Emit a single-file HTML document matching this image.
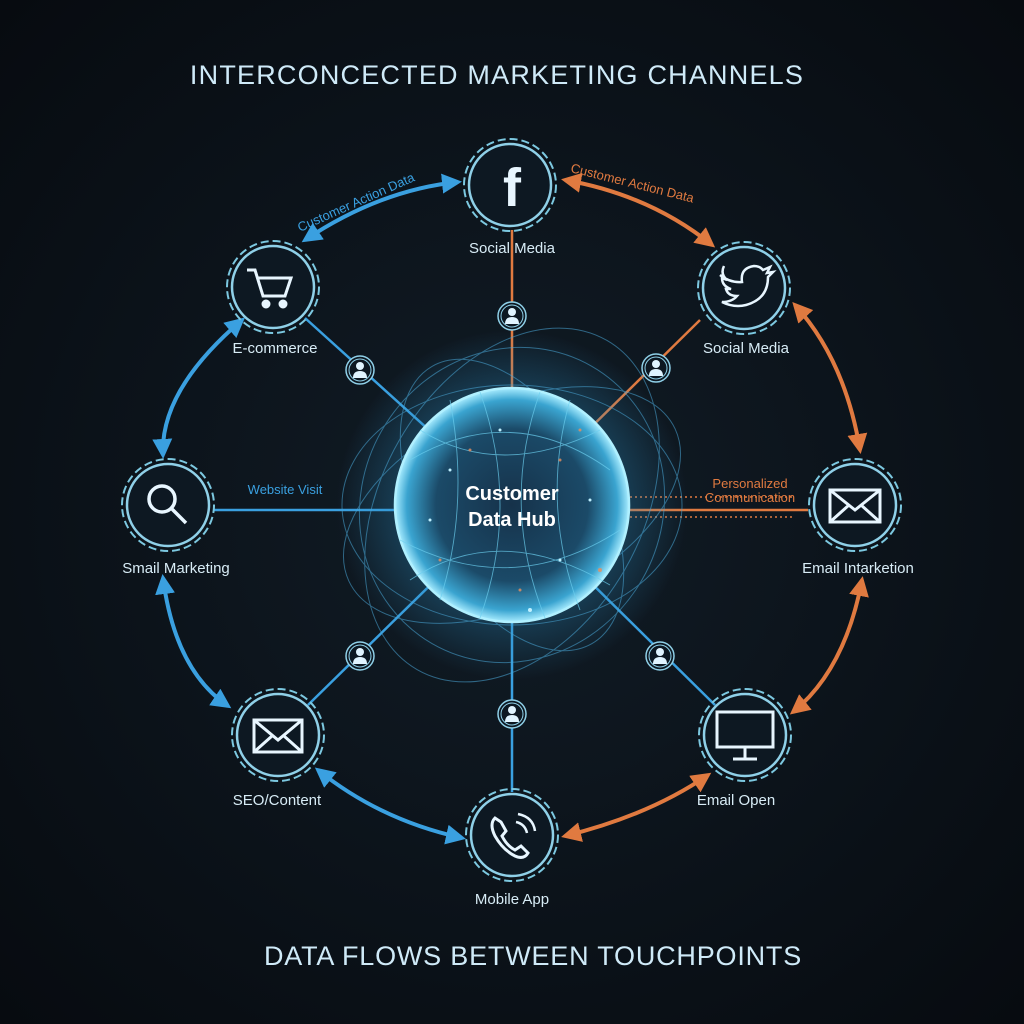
<!DOCTYPE html>
<html><head><meta charset="utf-8"><style>
html,body{margin:0;padding:0;background:#0a1016;}
svg{display:block;font-family:"Liberation Sans",sans-serif;}
</style></head><body>
<svg width="1024" height="1024" viewBox="0 0 1024 1024" xmlns="http://www.w3.org/2000/svg">
<defs>
<radialGradient id="bg" cx="50%" cy="50%" r="70%"><stop offset="0" stop-color="#111c26"/><stop offset="1" stop-color="#070b10"/></radialGradient>
<radialGradient id="hub" cx="50%" cy="50%" r="50%"><stop offset="0" stop-color="#16324a"/><stop offset="0.65" stop-color="#1b4a68"/><stop offset="0.9" stop-color="#3aa4d0"/><stop offset="1" stop-color="#a8ecff"/></radialGradient>
<radialGradient id="glow" cx="50%" cy="50%" r="50%"><stop offset="0.6" stop-color="#2a8cc0" stop-opacity="0.35"/><stop offset="1" stop-color="#2a8cc0" stop-opacity="0"/></radialGradient>
<marker id="ab" viewBox="0 0 10 10" refX="8" refY="5" markerWidth="5" markerHeight="5" orient="auto-start-reverse"><path d="M0,0L10,5L0,10z" fill="#3aa0e0"/></marker>
<marker id="ao" viewBox="0 0 10 10" refX="8" refY="5" markerWidth="5" markerHeight="5" orient="auto-start-reverse"><path d="M0,0L10,5L0,10z" fill="#e07a40"/></marker>
<g id="node"><circle r="46" fill="none" stroke="#7cc8e0" stroke-width="2" stroke-dasharray="8 4"/><circle r="41" fill="#0d1822" stroke="#8fd0e8" stroke-width="2.5"/></g>
<g id="person"><circle r="14" fill="#0d1822" stroke="#8fd0e8" stroke-width="1.5"/><circle r="11" fill="none" stroke="#8fd0e8" stroke-width="1"/><circle cy="-4" r="4" fill="#e0f4ff"/><path d="M-7,8 Q-7,1 0,1 Q7,1 7,8z" fill="#e0f4ff"/></g>
</defs>
<rect width="1024" height="1024" fill="url(#bg)"/>
<text x="497" y="84" text-anchor="middle" font-size="27" fill="#cfeaf8" letter-spacing="1.2">INTERCONCECTED MARKETING CHANNELS</text>
<text x="533" y="965" text-anchor="middle" font-size="27" fill="#cfeaf8" letter-spacing="0.8">DATA FLOWS BETWEEN TOUCHPOINTS</text>

<g stroke-width="2.5">
<line x1="512" y1="230" x2="512" y2="505" stroke="#e07a40"/>
<line x1="700" y1="320" x2="512" y2="505" stroke="#e07a40"/>
<line x1="808" y1="510" x2="512" y2="510" stroke="#e07a40"/>
<line x1="305" y1="318" x2="512" y2="505" stroke="#3aa0e0"/>
<line x1="214" y1="510" x2="512" y2="510" stroke="#3aa0e0"/>
<line x1="308" y1="705" x2="512" y2="505" stroke="#3aa0e0"/>
<line x1="512" y1="792" x2="512" y2="505" stroke="#3aa0e0"/>
<line x1="715" y1="705" x2="512" y2="505" stroke="#3aa0e0"/>
</g>
<line x1="590" y1="497" x2="795" y2="497" stroke="#e07a40" stroke-width="1.5" stroke-dasharray="2 3"/>
<line x1="590" y1="517" x2="795" y2="517" stroke="#e07a40" stroke-width="1.5" stroke-dasharray="2 3"/>

<circle cx="512" cy="505" r="175" fill="url(#glow)"/>
<g fill="none" stroke="#4aa8d8" stroke-width="1" opacity="0.55">
<ellipse cx="512" cy="505" rx="170" ry="120"/><ellipse cx="512" cy="505" rx="150" ry="160" transform="rotate(30 512 505)"/><ellipse cx="512" cy="505" rx="180" ry="100" transform="rotate(-25 512 505)"/>
<ellipse cx="512" cy="505" rx="160" ry="90" transform="rotate(60 512 505)"/><ellipse cx="512" cy="505" rx="190" ry="130" transform="rotate(-60 512 505)"/>
</g>
<circle cx="512" cy="505" r="117" fill="url(#hub)" stroke="#b0f0ff" stroke-width="2.5"/>
<g fill="none" stroke="#6cd0f0" stroke-width="0.9" opacity="0.7">
<path d="M410,460 Q512,400 610,470"/><path d="M400,540 Q512,600 620,530"/><path d="M450,400 Q470,505 440,600"/><path d="M570,400 Q540,505 580,610"/>
<path d="M420,430 Q500,480 600,430"/><path d="M410,580 Q500,520 610,585"/><path d="M480,392 Q520,505 480,618"/><path d="M540,392 Q500,505 545,618"/>
</g>
<g fill="#e89060" opacity="0.8"><circle cx="470" cy="450" r="1.5"/><circle cx="560" cy="460" r="1.5"/><circle cx="600" cy="570" r="2"/><circle cx="440" cy="560" r="1.5"/><circle cx="520" cy="590" r="1.5"/><circle cx="580" cy="430" r="1.5"/></g>
<g fill="#bff0ff"><circle cx="450" cy="470" r="1.5"/><circle cx="590" cy="500" r="1.5"/><circle cx="500" cy="430" r="1.5"/><circle cx="560" cy="560" r="1.5"/><circle cx="430" cy="520" r="1.5"/><circle cx="530" cy="610" r="2"/></g>
<text x="512" y="500" text-anchor="middle" font-size="20" font-weight="bold" fill="#fff">Customer</text>
<text x="512" y="526" text-anchor="middle" font-size="20" font-weight="bold" fill="#fff">Data Hub</text>

<g fill="none" stroke-width="4">
<path d="M305,240 Q380,190 458,182" stroke="#3aa0e0" marker-start="url(#ab)" marker-end="url(#ab)"/>
<path d="M242,320 Q160,390 163,455" stroke="#3aa0e0" marker-start="url(#ab)" marker-end="url(#ab)"/>
<path d="M163,578 Q175,670 228,706" stroke="#3aa0e0" marker-start="url(#ab)" marker-end="url(#ab)"/>
<path d="M318,770 Q380,820 462,838" stroke="#3aa0e0" marker-start="url(#ab)" marker-end="url(#ab)"/>
<path d="M565,180 Q650,195 712,245" stroke="#e07a40" marker-start="url(#ao)" marker-end="url(#ao)"/>
<path d="M795,305 Q845,360 860,450" stroke="#e07a40" marker-start="url(#ao)" marker-end="url(#ao)"/>
<path d="M862,580 Q845,670 793,712" stroke="#e07a40" marker-start="url(#ao)" marker-end="url(#ao)"/>
<path d="M708,775 Q650,815 565,836" stroke="#e07a40" marker-start="url(#ao)" marker-end="url(#ao)"/>
</g>
<text font-size="13" fill="#3aa0e0" transform="translate(300,232) rotate(-24)">Customer Action Data</text>
<text font-size="13" fill="#e07a40" transform="translate(570,172) rotate(14)">Customer Action Data</text>
<text x="285" y="494" text-anchor="middle" font-size="13" fill="#3aa0e0">Website Visit</text>
<text x="750" y="488" text-anchor="middle" font-size="13" fill="#e07a40">Personalized</text>
<text x="750" y="502" text-anchor="middle" font-size="13" fill="#e07a40">Communication</text>

<use href="#node" x="510" y="185"/><use href="#node" x="744" y="288"/><use href="#node" x="855" y="505"/><use href="#node" x="745" y="735"/>
<use href="#node" x="512" y="835"/><use href="#node" x="278" y="735"/><use href="#node" x="168" y="505"/><use href="#node" x="273" y="287"/>

<text x="512" y="206" text-anchor="middle" font-size="54" font-weight="bold" fill="#e8f6ff">f</text>
<path d="M720,275 q10,8 22,7 q-2,-14 12,-16 q6,0 9,4 l7,-3 l-3,6 l6,-1 l-5,5 q0,22 -22,28 q-12,3 -24,-3 q10,0 15,-6 q-9,0 -11,-7 l5,0 q-9,-3 -9,-11 l5,2 q-7,-6 -3,-14" fill="none" stroke="#e8f6ff" stroke-width="2.5"/>
<g fill="none" stroke="#e8f6ff" stroke-width="3"><path d="M247,270 h8 l8,26 h22 l6,-18 h-33"/><circle cx="266" cy="304" r="3" fill="#e8f6ff"/><circle cx="283" cy="304" r="3" fill="#e8f6ff"/></g>
<g fill="none" stroke="#e8f6ff" stroke-width="3.5"><circle cx="162" cy="499" r="13"/><line x1="172" y1="509" x2="186" y2="523"/></g>
<g fill="none" stroke="#e8f6ff" stroke-width="3"><rect x="830" y="490" width="50" height="32"/><path d="M830,490 L855,510 L880,490 M830,522 L849,505 M880,522 L861,505"/></g>
<g fill="none" stroke="#e8f6ff" stroke-width="3"><rect x="254" y="720" width="48" height="32"/><path d="M254,720 L278,740 L302,720 M254,752 L272,736 M302,752 L284,736"/></g>
<g fill="none" stroke="#e8f6ff" stroke-width="3"><rect x="717" y="712" width="56" height="35"/><path d="M745,747 v12 M733,759 h24"/></g>
<path d="M495,818 q-6,6 0,18 q8,14 20,20 q9,4 13,-3 l-7,-7 l-6,4 q-8,-4 -13,-14 l4,-5 l-5,-9z" fill="none" stroke="#e8f6ff" stroke-width="3"/>
<path d="M516,822 q9,2 11,11 M518,814 q15,3 17,17" fill="none" stroke="#e8f6ff" stroke-width="2.5"/>

<g font-size="15" fill="#d8ecf6" text-anchor="middle">
<text x="512" y="253">Social Media</text><text x="746" y="353">Social Media</text><text x="858" y="573">Email Intarketion</text>
<text x="736" y="805">Email Open</text><text x="512" y="904">Mobile App</text><text x="277" y="805">SEO/Content</text>
<text x="176" y="573">Smail Marketing</text><text x="275" y="353">E-commerce</text>
</g>

<use href="#person" x="512" y="316"/><use href="#person" x="360" y="370"/><use href="#person" x="656" y="368"/>
<use href="#person" x="360" y="656"/><use href="#person" x="660" y="656"/><use href="#person" x="512" y="714"/>
</svg>
</body></html>
